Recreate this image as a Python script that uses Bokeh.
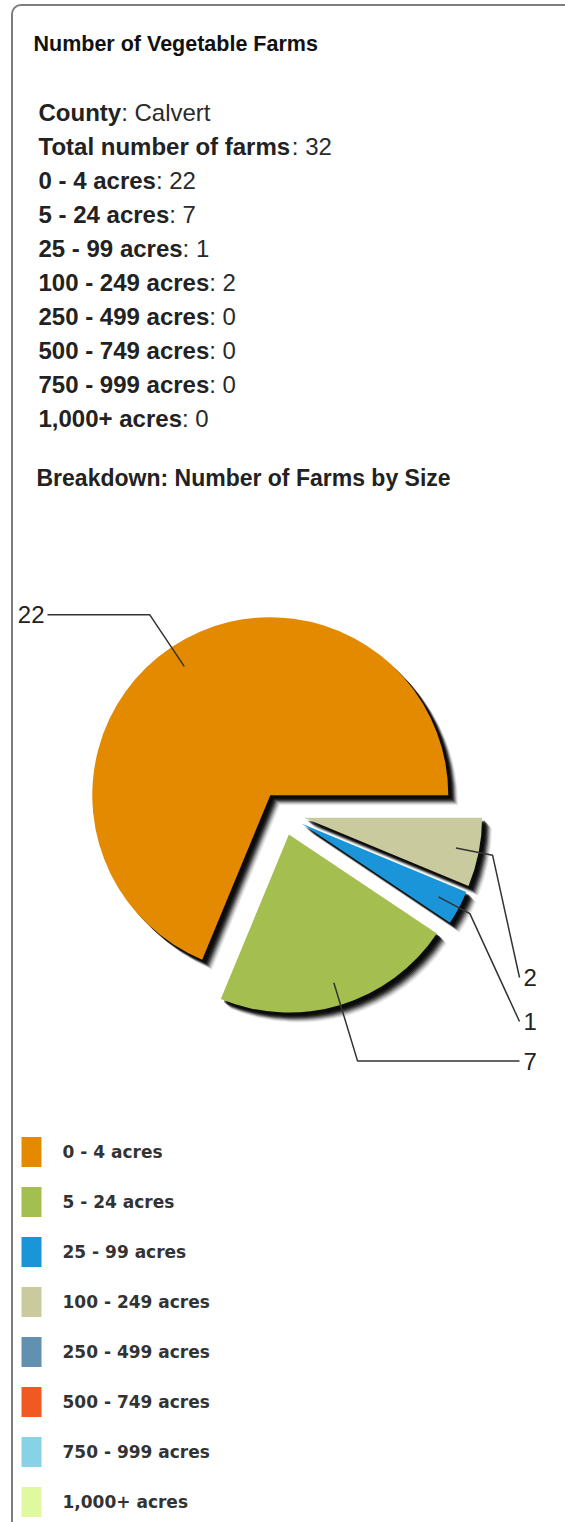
import math
from bokeh.plotting import figure
from bokeh.models import Range1d
from bokeh.core.properties import value
from bokeh.embed import file_html
from bokeh.resources import INLINE

# ---------------- data ----------------
chart_title = "Number of Vegetable Farms"
county_label = "County"
county_name = "Calvert"
total_label = "Total number of farms"
total_farms = 32
size_classes = ["0 - 4 acres", "5 - 24 acres", "25 - 99 acres", "100 - 249 acres",
                "250 - 499 acres", "500 - 749 acres", "750 - 999 acres", "1,000+ acres"]
farm_counts = [22, 7, 1, 2, 0, 0, 0, 0]
class_colors = ["#E38A00", "#A5BE50", "#1B95D9", "#C9CB9F",
                "#6290B0", "#F05A22", "#87D2E6", "#E1F7A0"]
breakdown_title = "Breakdown: Number of Farms by Size"

# ---------------- layout ----------------
W, H = 565, 1522
FONT = value("Liberation Sans")
TXT = "#222222"


def Y(img_y):
    return H - img_y


# Arial/Liberation Sans Bold advance widths (per 1000 em)
BOLD_W = {' ': 278, ',': 278, '-': 333, '+': 584, ':': 333, 'C': 722, 'T': 611,
          'a': 556, 'b': 611, 'c': 556, 'e': 556, 'f': 333, 'l': 278, 'm': 889,
          'n': 611, 'o': 611, 'r': 389, 's': 556, 't': 333, 'u': 611, 'y': 556}


def bold_width(s, size):
    return sum(BOLD_W.get(ch, 556) for ch in s) * size / 1000.0


p = figure(width=W, height=H, output_backend="svg", toolbar_location=None,
           x_range=Range1d(0, W), y_range=Range1d(0, H), min_border=0)
p.axis.visible = False
p.grid.visible = False
p.outline_line_color = None
p.background_fill_color = "white"
p.border_fill_color = "white"

# panel border
BORDER = "#7d7d7d"
p.line(x=[11.5, 11.5], y=[Y(13.5), Y(H)], line_color=BORDER, line_width=2)
p.line(x=[20.5, 565], y=[Y(4.5), Y(4.5)], line_color=BORDER, line_width=2)
p.arc(x=[20.5], y=[Y(13.5)], radius=9, start_angle=math.pi / 2, end_angle=math.pi,
      line_color=BORDER, line_width=2)

# title
p.text(x=[33], y=[Y(43)], text=[chart_title], text_font=FONT, text_font_size="21.5px",
       text_font_style="bold", text_color="#111111", text_baseline="middle")

# info lines
labels = [county_label, total_label] + size_classes
values = [county_name, str(total_farms)] + [str(v) for v in farm_counts]
FS = 24
x0 = 38
lab_x, lab_y, val_x, val_y, val_t = [], [], [], [], []
for i, (lab, val) in enumerate(zip(labels, values)):
    yc = 112 + 34 * i
    lab_x.append(x0)
    lab_y.append(Y(yc))
    val_x.append(x0 + bold_width(lab, FS))
    val_y.append(Y(yc))
    val_t.append(": " + val)
p.text(x=lab_x, y=lab_y, text=labels, text_font=FONT, text_font_size=f"{FS}px",
       text_font_style="bold", text_color=TXT, text_baseline="middle")
p.text(x=val_x, y=val_y, text=val_t, text_font=FONT, text_font_size=f"{FS}px",
       text_color="#2a2a2a", text_baseline="middle")

p.text(x=[36], y=[Y(477)], text=[breakdown_title], text_font=FONT, text_font_size="23px",
       text_font_style="bold", text_color=TXT, text_baseline="middle")

# ---------------- pie ----------------
CX, CY = 282.0, Y(813)
R = 178.0
EXPLODE = 22.0
total = float(sum(farm_counts))
slices = []
a = 0.0
for name, cnt, col in zip(size_classes, farm_counts, class_colors):
    if cnt <= 0:
        continue
    sweep = cnt / total * 2 * math.pi
    mid = a + sweep / 2
    sx = CX + EXPLODE * math.cos(mid)
    sy = CY + EXPLODE * math.sin(mid)
    slices.append(dict(name=name, cnt=cnt, col=col, a0=a, a1=a + sweep, mid=mid, cx=sx, cy=sy))
    a += sweep

# soft drop shadows
for off, alpha in [(10, 0.07), (9, 0.12), (8, 0.18), (7, 0.26), (6, 0.36),
                   (5, 0.45), (4, 0.5), (3, 0.5)]:
    for s in slices:
        p.wedge(x=[s["cx"] + off], y=[s["cy"] - off], radius=R,
                start_angle=s["a0"], end_angle=s["a1"], direction="anticlock",
                fill_color="black", fill_alpha=alpha, line_color=None)
for s in slices:
    p.wedge(x=[s["cx"]], y=[s["cy"]], radius=R,
            start_angle=s["a0"], end_angle=s["a1"], direction="anticlock",
            fill_color=s["col"], line_color=None)

# leader lines and value labels (elbow radius, end point, label anchor)
LEAD = {
    "0 - 4 acres": dict(re=1.22, end_x=47, lab_x=44, lab_y=None, align="right"),
    "5 - 24 acres": dict(re=1.33, end_x=519, lab_x=523, lab_y=None, align="left"),
    "25 - 99 acres": dict(re=1.07, end_x=519, lab_x=523, lab_y=1021, align="left"),
    "100 - 249 acres": dict(re=1.08, end_x=519, lab_x=523, lab_y=977, align="left"),
}
LINE_C = "#333333"
for s in slices:
    cfg = LEAD[s["name"]]
    ux, uy = math.cos(s["mid"]), math.sin(s["mid"])
    x1, y1 = s["cx"] + 0.87 * R * ux, s["cy"] + 0.87 * R * uy
    x2, y2 = s["cx"] + cfg["re"] * R * ux, s["cy"] + cfg["re"] * R * uy
    ey = y2 if cfg["lab_y"] is None else Y(cfg["lab_y"])
    p.line(x=[x1, x2, cfg["end_x"]], y=[y1, y2, ey], line_color=LINE_C, line_width=1.5)
    p.text(x=[cfg["lab_x"]], y=[ey], text=[str(s["cnt"])], text_font=FONT,
           text_font_size="24px", text_color=TXT, text_align=cfg["align"],
           text_baseline="middle")

# ---------------- legend ----------------
leg_y = [Y(1151.5 + 50 * i) for i in range(len(size_classes))]
p.rect(x=[31] * len(size_classes), y=leg_y, width=20, height=30,
       fill_color=class_colors, line_color=None)
p.text(x=[62] * len(size_classes), y=leg_y, text=size_classes,
       text_font=value("DejaVu Sans"), text_font_size="17px", text_font_style="bold",
       text_color="#333333", text_baseline="middle")

open("out.html", "w").write(file_html(p, INLINE))
